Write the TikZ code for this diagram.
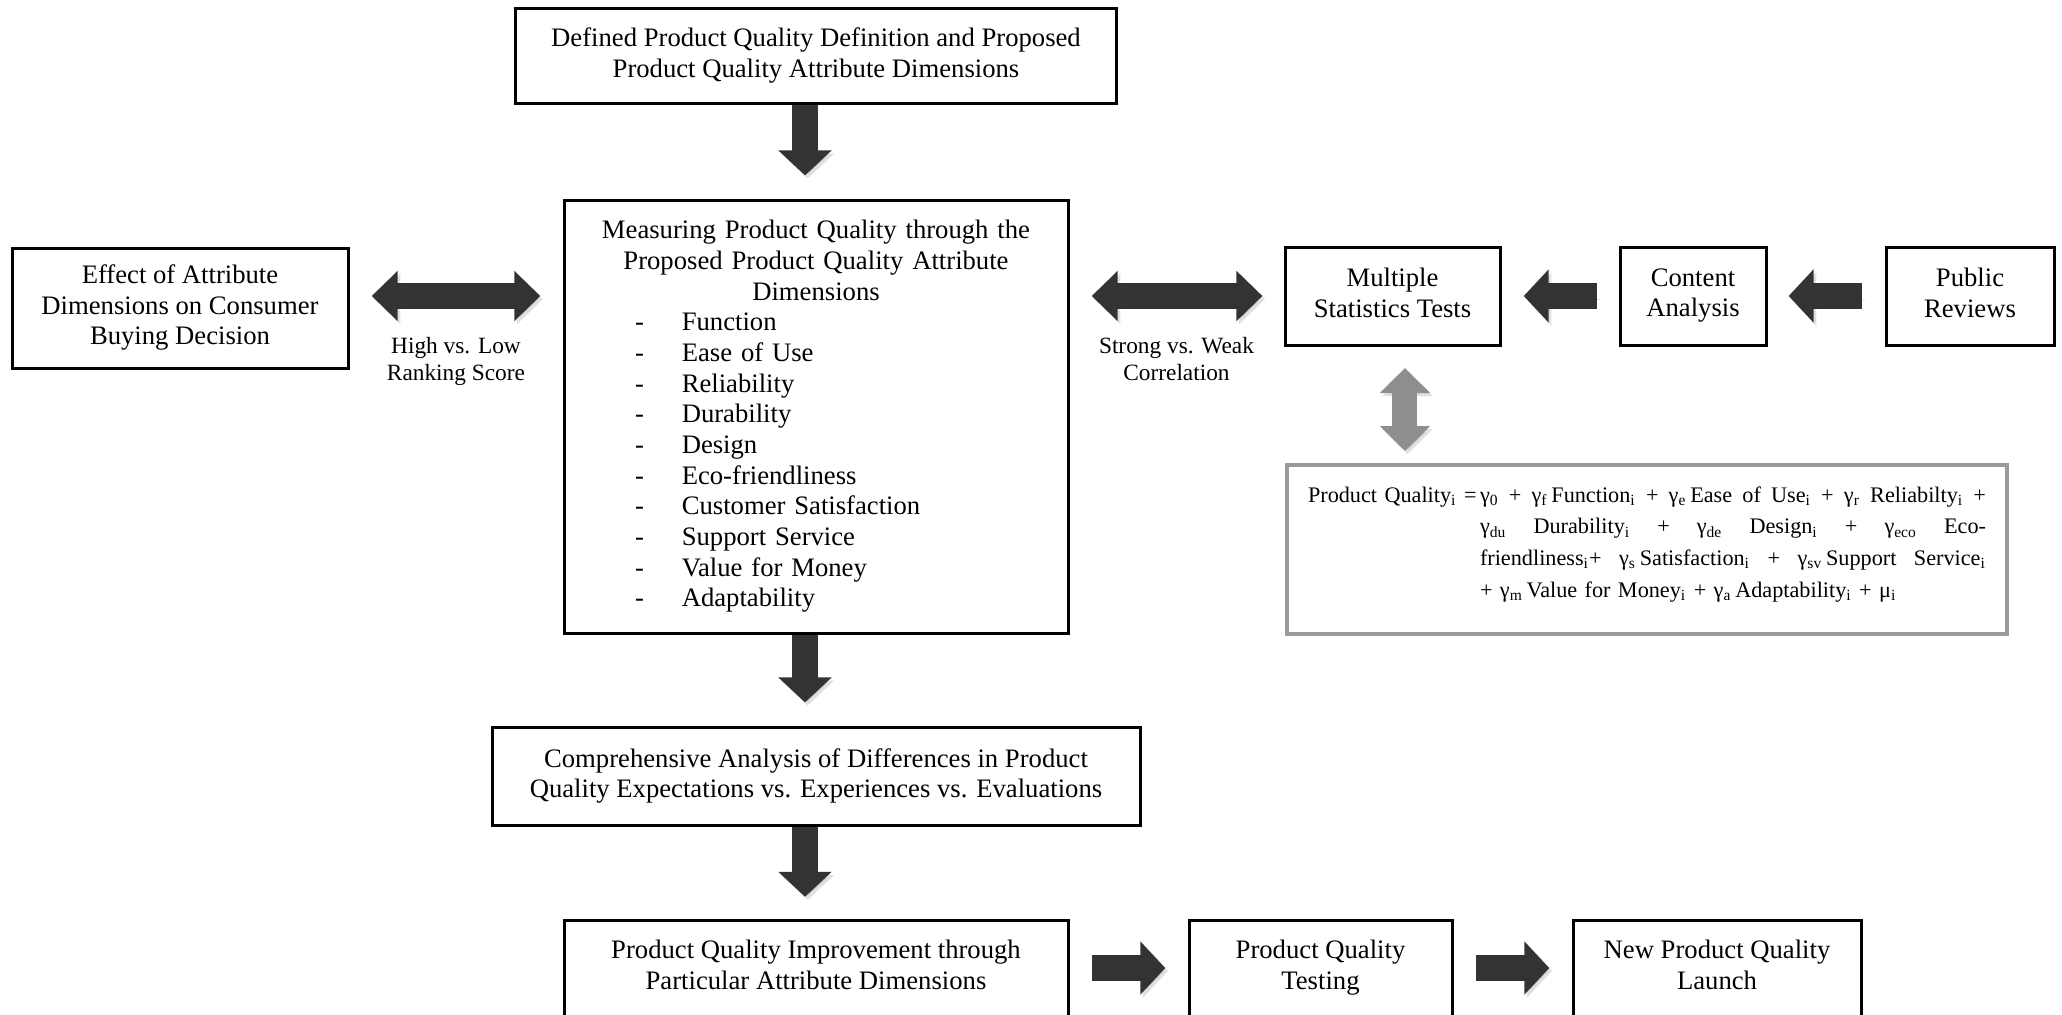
\documentclass[tikz,border=0pt]{standalone}
\usepackage{fontspec}
\setmainfont{Liberation Serif}
\usetikzlibrary{arrows.meta,positioning}
\definecolor{ArrowInk}{HTML}{333333}
\definecolor{ArrowGrey}{HTML}{8E8E8E}
\definecolor{EqLine}{HTML}{9B9B9B}
\newcommand{\pxu}{0.45pt}
\newcommand{\dimitem}[1]{\makebox[\linewidth][l]{\hspace*{32pt}\makebox[21pt][l]{-}#1}}
\newcommand{\idx}[1]{\textsubscript{#1}}
\newcommand{\eqline}[1]{\leavevmode\hbox to 227.7pt{\spaceskip=2.5pt plus 1fil\relax #1}}

\begin{document}
\begin{tikzpicture}[
  x=0.45pt,y=-0.45pt,
  font=\fontsize{12}{13.8}\selectfont,
  box/.style={draw=black,line width=1.35pt,fill=white,align=center,inner sep=0pt},
  cell/.style={box,text depth=2.9pt},
  tailbox/.style={box,anchor=north,inner ysep=8.8pt,text height=22.1pt,text depth=50pt},
  eqbox/.style={draw=EqLine,line width=1.8pt,fill=white,anchor=north west,
    inner xsep=9.45pt,inner ysep=8.8pt,text width=305pt,text height=8pt,
    text depth=50.6pt,align=left,font=\fontsize{10}{14.2}\selectfont},
  fat/.style={draw=ArrowInk,line width=11.7pt,-{Triangle[length=11.25pt,width=23.4pt]},
    preaction={draw=black,opacity=0.12,transform canvas={shift={(1.2pt,-1.4pt)}}}},
  fatboth/.style={fat,{Triangle[length=11.7pt,width=22pt]}-{Triangle[length=11.7pt,width=22pt]},
    line width=12pt},
  greyboth/.style={fat,draw=ArrowGrey,line width=11.25pt,
    {Triangle[length=11.25pt,width=22pt]}-{Triangle[length=11.25pt,width=22pt]}},
  lab/.style={font=\fontsize{10.5}{12}\selectfont,align=center,inner sep=0pt}
]
  \useasboundingbox (0,0) rectangle (2062,1015);
  \clip (0,0) rectangle (2062,1015);

  % main column
  \node[box,minimum width=601*\pxu,minimum height=95*\pxu] (defined) at (816,55.5)
    {Defined Product Quality Definition and Proposed\\Product Quality Attribute Dimensions};
  \node[box,minimum width=504*\pxu,minimum height=433*\pxu,text width=226.8pt,align=center]
    (measure) at (816,416.5)
    {Measuring Product Quality through the\\Proposed Product Quality Attribute\\Dimensions\\
    \dimitem{Function}\\\dimitem{Ease of Use}\\\dimitem{Reliability}\\
    \dimitem{Durability}\\\dimitem{Design}\\\dimitem{Eco-friendliness}\\
    \dimitem{Customer Satisfaction}\\\dimitem{Support Service}\\
    \dimitem{Value for Money}\\\dimitem{Adaptability}};
  \node[box,minimum width=648*\pxu,minimum height=98*\pxu] (compare) at (816,776)
    {Comprehensive Analysis of Differences in Product\\Quality Expectations vs. Experiences vs. Evaluations};

  % side boxes
  \node[cell,minimum width=336*\pxu,minimum height=120*\pxu] (effect) at (180,308)
    {Effect of Attribute\\Dimensions on Consumer\\Buying Decision};
  \node[cell,minimum width=215*\pxu,minimum height=98*\pxu] (stats) at (1392.5,296)
    {Multiple\\Statistics Tests};
  \node[cell,minimum width=146*\pxu,minimum height=98*\pxu] (content) at (1693,296)
    {Content\\Analysis};
  \node[cell,minimum width=168*\pxu,minimum height=98*\pxu] (reviews) at (1970,296)
    {Public\\Reviews};

  \node[eqbox] (model) at (1285,463)
    {\makebox[77.4pt][l]{Product Quality\idx{i} =}\parbox[t]{227.7pt}{%
    \eqline{γ\idx{0} + γ\idx{f}\,Function\idx{i} + γ\idx{e}\,Ease of Use\idx{i} + γ\idx{r} Reliabilty\idx{i} +}\\
    \eqline{γ\idx{du} Durability\idx{i} + γ\idx{de} Design\idx{i} + γ\idx{eco} Eco-}\\
    \eqline{friendliness\idx{i}+ γ\idx{s}\,Satisfaction\idx{i} + γ\idx{sv}\,Support Service\idx{i}}\\
    + γ\idx{m}\,Value for Money\idx{i} + γ\idx{a}\,Adaptability\idx{i} + μ\idx{i}}};

  % bottom row
  \node[tailbox,minimum width=504*\pxu] (improve) at (816,919)
    {Product Quality Improvement through\\Particular Attribute Dimensions};
  \node[tailbox,minimum width=263*\pxu] (testing) at (1320.5,919)
    {Product Quality\\Testing};
  \node[tailbox,minimum width=288*\pxu] (launch) at (1717,919)
    {New Product Quality\\Launch};
  \coordinate (tailrow) at (0,968);

  % block arrows
  \draw[fat,shorten >=10.4pt] ([xshift=-4.95pt]defined.south) -- ([xshift=-4.95pt]measure.north);
  \draw[fat,shorten >=10.4pt] ([xshift=-4.95pt]measure.south) -- ([xshift=-4.95pt]compare.north);
  \draw[fat,shorten >=10pt] ([xshift=-4.95pt]compare.south) -- ([xshift=-4.95pt]improve.north);
  \draw[fat,shorten <=10pt,shorten >=10pt] (improve.east |- tailrow) -- (testing.west |- tailrow);
  \draw[fat,shorten <=10pt,shorten >=10pt] (testing.east |- tailrow) -- (launch.west |- tailrow);
  \draw[fat,shorten <=9.5pt,shorten >=10pt] (content) -- (stats);
  \draw[fat,shorten <=10pt,shorten >=9.5pt] (reviews) -- (content);

  \draw[fatboth,shorten <=10pt,shorten >=10pt] (effect.east |- stats) --
    node[lab,below=12.7pt] {High vs. Low\\Ranking Score} (measure.west |- stats);
  \draw[fatboth,shorten <=10pt,shorten >=9.5pt] (measure.east |- stats) --
    node[lab,below=12.7pt] {Strong vs. Weak\\Correlation} (stats);
  \draw[greyboth,shorten <=9.7pt,shorten >=5.4pt] ([xshift=5.6pt]stats.south) --
    ([xshift=5.6pt]stats.south |- model.north);
\end{tikzpicture}
\end{document}
